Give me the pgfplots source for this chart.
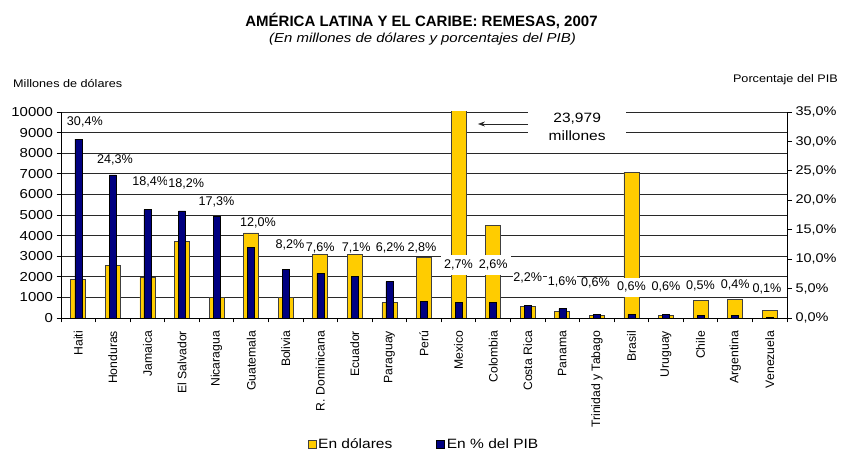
\documentclass[border=0pt]{standalone}
\usepackage{pgfplots}
\pgfplotsset{compat=1.18}
\usepackage{fontspec}
\setmainfont{Liberation Sans}
\newfontfamily\widefont{Liberation Sans}[FakeStretch=1.15]
\usetikzlibrary{arrows.meta}
\definecolor{barY}{RGB}{255,204,0}
\definecolor{barB}{RGB}{0,0,128}
\definecolor{gridc}{RGB}{40,40,40}
\tikzset{lbl/.style={fill=white, inner xsep=0.8pt, inner ysep=0.5pt, font=\fontsize{12.6}{14}\selectfont}}
\pgfplotsset{sqlegend/.style={legend image code/.code={\draw[##1] (0pt,-4pt) rectangle (8pt,4pt);}}}

\begin{document}
\begin{tikzpicture}[x=1pt,y=1pt]
\path[use as bounding box] (0,0) rectangle (843,454);

% ---------- left axis: millions of dollars ----------
\begin{axis}[
  at={(61pt,136pt)}, anchor=south west,
  scale only axis, width=726pt, height=206pt,
  xmin=-0.5, xmax=20.5, ymin=0, ymax=10000,
  scaled y ticks=false,
  axis x line*=bottom, axis y line*=left,
  axis line style={-, black, line width=0.8pt},
  tick align=outside, major tick length=4.5pt,
  tick style={black, line width=0.8pt},
  ytick={0,1000,2000,3000,4000,5000,6000,7000,8000,9000,10000},
  yticklabels={0,1000,2000,3000,4000,5000,6000,7000,8000,9000,10000},
  yticklabel style={font=\fontsize{13}{14}\widefont},
  ymajorgrids, grid style={gridc, line width=0.8pt},
  xtick={-0.5,0.5,1.5,2.5,3.5,4.5,5.5,6.5,7.5,8.5,9.5,10.5,11.5,12.5,13.5,14.5,15.5,16.5,17.5,18.5,19.5,20.5},
  x tick label as interval,
  xticklabels={Haiti,Honduras,Jamaica,El Salvador,Nicaragua,Guatemala,Bolivia,R. Dominicana,Ecuador,Paraguay,Perú,Mexico,Colombia,Costa Rica,Panama,Trinidad y Tabago,Brasil,Uruguay,Chile,Argentina,Venezuela},
  xticklabel style={rotate=90, anchor=east, font=\fontsize{12.2}{13}\selectfont},
  xticklabel shift=5pt,
]
\addplot[ybar, bar width=15pt, fill=barY, draw=black!75, line width=0.7pt]
  coordinates {(0,1870) (1,2560) (2,1960) (3,3700) (4,990) (5,4130) (6,1000)
               (7,3100) (8,3090) (9,740) (10,2930) (11,23979) (12,4490)
               (13,560) (14,320) (15,110) (16,7075) (17,110) (18,850)
               (19,910) (20,360)};
\end{axis}

% ---------- right axis: percent of GDP ----------
\begin{axis}[
  at={(61pt,136pt)}, anchor=south west,
  scale only axis, width=726pt, height=206pt,
  xmin=-0.5, xmax=20.5, ymin=0, ymax=35,
  axis x line=none, axis y line*=right,
  axis line style={-, black, line width=0.8pt},
  tick align=outside, major tick length=5pt,
  tick style={black, line width=0.8pt},
  ytick={0,5,10,15,20,25,30,35},
  yticklabels={{0,0\%},{5,0\%},{10,0\%},{15,0\%},{20,0\%},{25,0\%},{30,0\%},{35,0\%}},
  yticklabel style={font=\fontsize{12.6}{14}\widefont},
  clip=false,
  legend style={at={(0.5,-0.612)}, anchor=center, draw=none, fill=none,
    legend columns=2, font=\fontsize{13.5}{15}\widefont,
    /tikz/every even column/.append style={column sep=42pt}},
]
\addlegendimage{fill=barY, draw=black!75, line width=0.5pt, sqlegend}
\addlegendentry{En dólares}
\addplot[ybar, bar width=7pt, fill=barB, draw=black, line width=0.5pt, sqlegend]
  coordinates {(0,30.4) (1,24.3) (2,18.4) (3,18.2) (4,17.3) (5,12.0) (6,8.2)
               (7,7.6) (8,7.1) (9,6.2) (10,2.8) (11,2.7) (12,2.6) (13,2.2)
               (14,1.6) (15,0.6) (16,0.6) (17,0.6) (18,0.5) (19,0.4) (20,0.1)};
\addlegendentry{En \% del PIB}

% data labels
\node[lbl] at (axis cs:0.19,33.3) {30,4\%};
\node[lbl] at (axis cs:1.06,26.8) {24,3\%};
\node[lbl] at (axis cs:2.08,23.1) {18,4\%};
\node[lbl] at (axis cs:3.12,22.8) {18,2\%};
\node[lbl] at (axis cs:4.0,19.7) {17,3\%};
\node[lbl] at (axis cs:5.2,16.1) {12,0\%};
\node[lbl] at (axis cs:6.12,12.4) {8,2\%};
\node[lbl] at (axis cs:7.0,11.9) {7,6\%};
\node[lbl] at (axis cs:8.04,11.9) {7,1\%};
\node[lbl] at (axis cs:9.02,11.9) {6,2\%};
\node[lbl] at (axis cs:9.94,11.9) {2,8\%};
\node[lbl, inner ysep=5pt, inner xsep=3pt] at (axis cs:11,9.0) {2,7\%};
\node[lbl, inner ysep=5pt, inner xsep=3pt] at (axis cs:12,9.0) {2,6\%};
\node[lbl] at (axis cs:13,6.8) {2,2\%};
\node[lbl] at (axis cs:14,6.1) {1,6\%};
\node[lbl] at (axis cs:14.96,5.9) {0,6\%};
\node[lbl, inner ysep=4pt, inner xsep=2pt] at (axis cs:16,5.2) {0,6\%};
\node[lbl] at (axis cs:17,5.2) {0,6\%};
\node[lbl] at (axis cs:18,5.5) {0,5\%};
\node[lbl] at (axis cs:19,5.6) {0,4\%};
\node[lbl] at (axis cs:19.92,4.9) {0,1\%};

% Mexico annotation
\node[fill=white, align=center, minimum width=98pt, minimum height=40pt, inner sep=0pt,
      font=\fontsize{13.5}{18.5}\widefont] at (axis cs:14.43,32.45) {23,979\\millones};
\draw[-{Stealth[length=7pt,width=5pt]}, black!85, line width=0.6pt]
  (axis cs:13.01,32.96) -- (axis cs:11.56,32.96);
\end{axis}

% titles
\node[anchor=base, font=\bfseries\fontsize{15}{16}\selectfont] at (421.5,427) {AMÉRICA LATINA Y EL CARIBE: REMESAS, 2007};
\node[anchor=base, font=\itshape\fontsize{13}{14}\widefont] at (422.5,411) {(En millones de dólares y porcentajes del PIB)};
\node[anchor=base west, inner sep=0pt, font=\fontsize{11}{12}\widefont] at (13,366) {Millones de dólares};
\node[anchor=base east, inner sep=0pt, font=\fontsize{11}{12}\widefont] at (838,371) {Porcentaje del PIB};
\end{tikzpicture}
\end{document}
